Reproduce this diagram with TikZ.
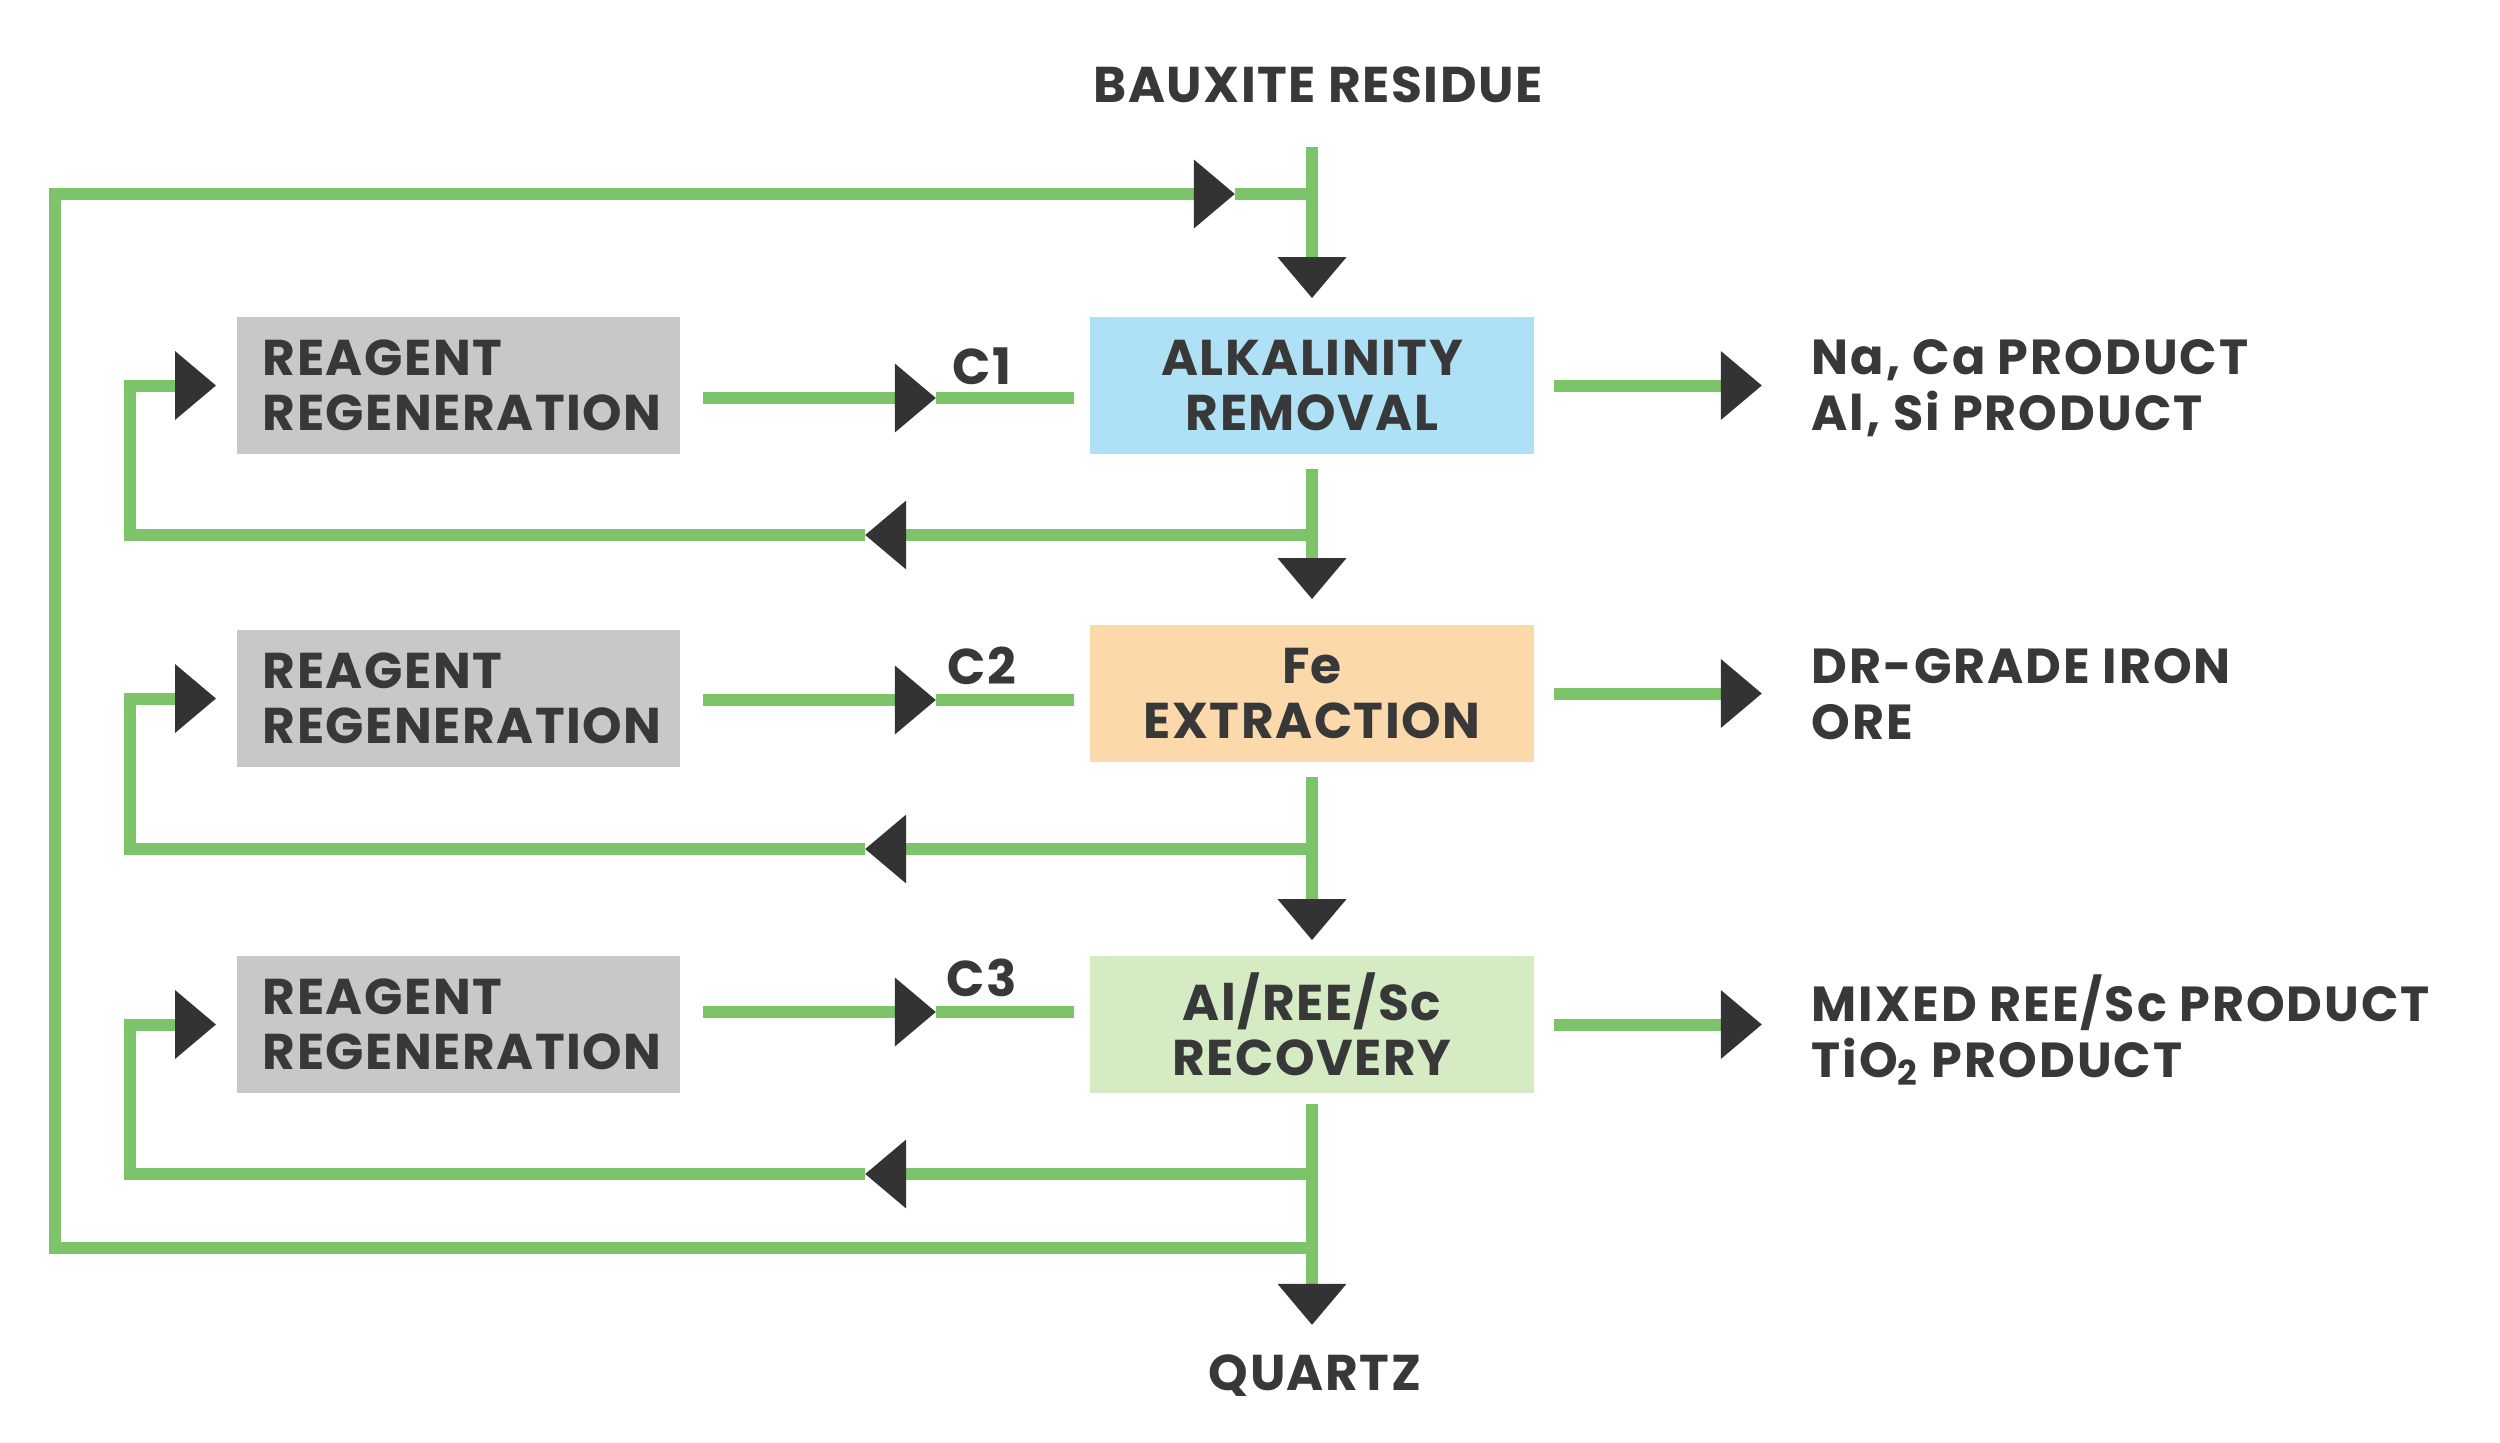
\documentclass[tikz,border=0pt]{standalone}
\usepackage{fontspec}
\setmainfont{Poppins}[LetterSpace=3]
\usetikzlibrary{arrows.meta}

\definecolor{flowgreen}{HTML}{7DC36A}
\definecolor{tipgray}{HTML}{333333}
\definecolor{textgray}{HTML}{383838}
\definecolor{regengray}{HTML}{C8C8C8}
\definecolor{alkblue}{HTML}{AEE1F5}
\definecolor{fepeach}{HTML}{FBD9AA}
\definecolor{recgreen}{HTML}{D4EBC4}

\begin{document}
\begin{tikzpicture}[x=0.01cm, y=-0.01cm, line join=miter,
    flow/.style={draw=flowgreen, line width=0.12cm},
    head/.style={-{Triangle[length=0.41cm, width=0.66cm, color=tipgray]}},
    lbl/.style={inner sep=0pt, text=textgray, font=\bfseries\fontsize{14.3}{15.6}\selectfont},
    prodlbl/.style={lbl, anchor=west, align=left, font=\bfseries\fontsize{14}{15.8}\selectfont\addfontfeature{LetterSpace=4}},
    stagebox/.style={lbl, minimum width=4.43cm, minimum height=1.37cm, align=center},
    regenbox/.style={stagebox, fill=regengray, text width=3.91cm, align=left}]
  \useasboundingbox (0,0) rectangle (2500,1442);

  % stages
  \node[stagebox, fill=alkblue] (alkali) at (1312,385.5) {ALKALINITY\\REMOVAL};
  \node[stagebox, fill=fepeach] (iron) at (1312,693.5) {Fe\\EXTRACTION};
  \node[stagebox, fill=recgreen] (recovery) at (1312,1024.5) {Al/REE/Sc\\RECOVERY};
  \node[regenbox] (regen1) at (458.5,385.5) {REAGENT\\REGENERATION};
  \node[regenbox] (regen2) at (458.5,698.5) {REAGENT\\REGENERATION};
  \node[regenbox] (regen3) at (458.5,1024.5) {REAGENT\\REGENERATION};

  % feed, products, residue
  \node[lbl] (feedlbl) at (1318,85) {BAUXITE RESIDUE};
  \node[lbl] (drainlbl) at (1315,1376) {QUARTZ};
  \node[prodlbl] (prod1) at (1811,388) {Na, Ca PRODUCT\\Al, Si PRODUCT};
  \node[prodlbl] (prod2) at (1811,694) {DR-GRADE IRON\\ORE};
  \node[prodlbl] (prod3) at (1811,1030) {MIXED REE/Sc PRODUCT\\TiO\textsubscript{2} PRODUCT};
  \node[lbl] (c1) at (982,366) {C1};
  \node[lbl] (c2) at (982,666) {C2};
  \node[lbl] (c3) at (982,978) {C3};

  \coordinate (feed) at (1312,147);
  \coordinate (merge) at (1312,194);
  \coordinate (drain) at (1312,1325);
  \coordinate (split1) at (1312,535);
  \coordinate (split2) at (1312,849);
  \coordinate (split3) at (1312,1174);
  \coordinate (split4) at (1312,1248);
  \coordinate (c1tip) at (936,398);
  \coordinate (c2tip) at (936,700);
  \coordinate (c3tip) at (936,1012);
  \coordinate (back1) at (865,535);
  \coordinate (back2) at (865,849);
  \coordinate (back3) at (865,1174);
  \coordinate (corner1) at (130,535);
  \coordinate (corner2) at (130,849);
  \coordinate (corner3) at (130,1174);
  \coordinate (loopbl) at (55,1248);
  \coordinate (looptl) at (55,194);
  \coordinate (looptip) at (1235,194);

  % main line
  \draw[flow, head, shorten >=0.18cm] (feed) -- (alkali.north);
  \draw[flow, head, shorten <=0.14cm, shorten >=0.25cm] (alkali.south) -- (iron.north);
  \draw[flow, head, shorten <=0.14cm, shorten >=0.15cm] (iron.south) -- (recovery.north);
  \draw[flow, head, shorten <=0.1cm] (recovery.south) -- (drain);

  % outer recycle loop
  \draw[flow, head] (split4) -- (loopbl) -- (looptl) -- (looptip);
  \draw[flow] (looptip) -- (merge);

  % reagent loops
  \draw[flow, head] (split1) -- (back1);
  \draw[flow, head, shorten >=0.2cm] (back1) -- (corner1) |- (regen1.west);
  \draw[flow, head] (split2) -- (back2);
  \draw[flow, head, shorten >=0.2cm] (back2) -- (corner2) |- (regen2.west);
  \draw[flow, head] (split3) -- (back3);
  \draw[flow, head, shorten >=0.2cm] (back3) -- (corner3) |- (regen3.west);

  \draw[flow, head, shorten <=0.22cm] (regen1.east |- c1tip) -- (c1tip);
  \draw[flow, shorten >=0.16cm] (c1tip) -- (alkali.west |- c1tip);
  \draw[flow, head, shorten <=0.22cm] (regen2.east |- c2tip) -- (c2tip);
  \draw[flow, shorten >=0.16cm] (c2tip) -- (iron.west |- c2tip);
  \draw[flow, head, shorten <=0.22cm] (regen3.east |- c3tip) -- (c3tip);
  \draw[flow, shorten >=0.16cm] (c3tip) -- (recovery.west |- c3tip);

  % products
  \draw[flow, head, shorten <=0.2cm, shorten >=0.49cm] (alkali.east) -- (alkali.east -| prod1.west);
  \draw[flow, head, shorten <=0.2cm, shorten >=0.49cm] (iron.east) -- (iron.east -| prod2.west);
  \draw[flow, head, shorten <=0.2cm, shorten >=0.49cm] (recovery.east) -- (recovery.east -| prod3.west);
\end{tikzpicture}
\end{document}
